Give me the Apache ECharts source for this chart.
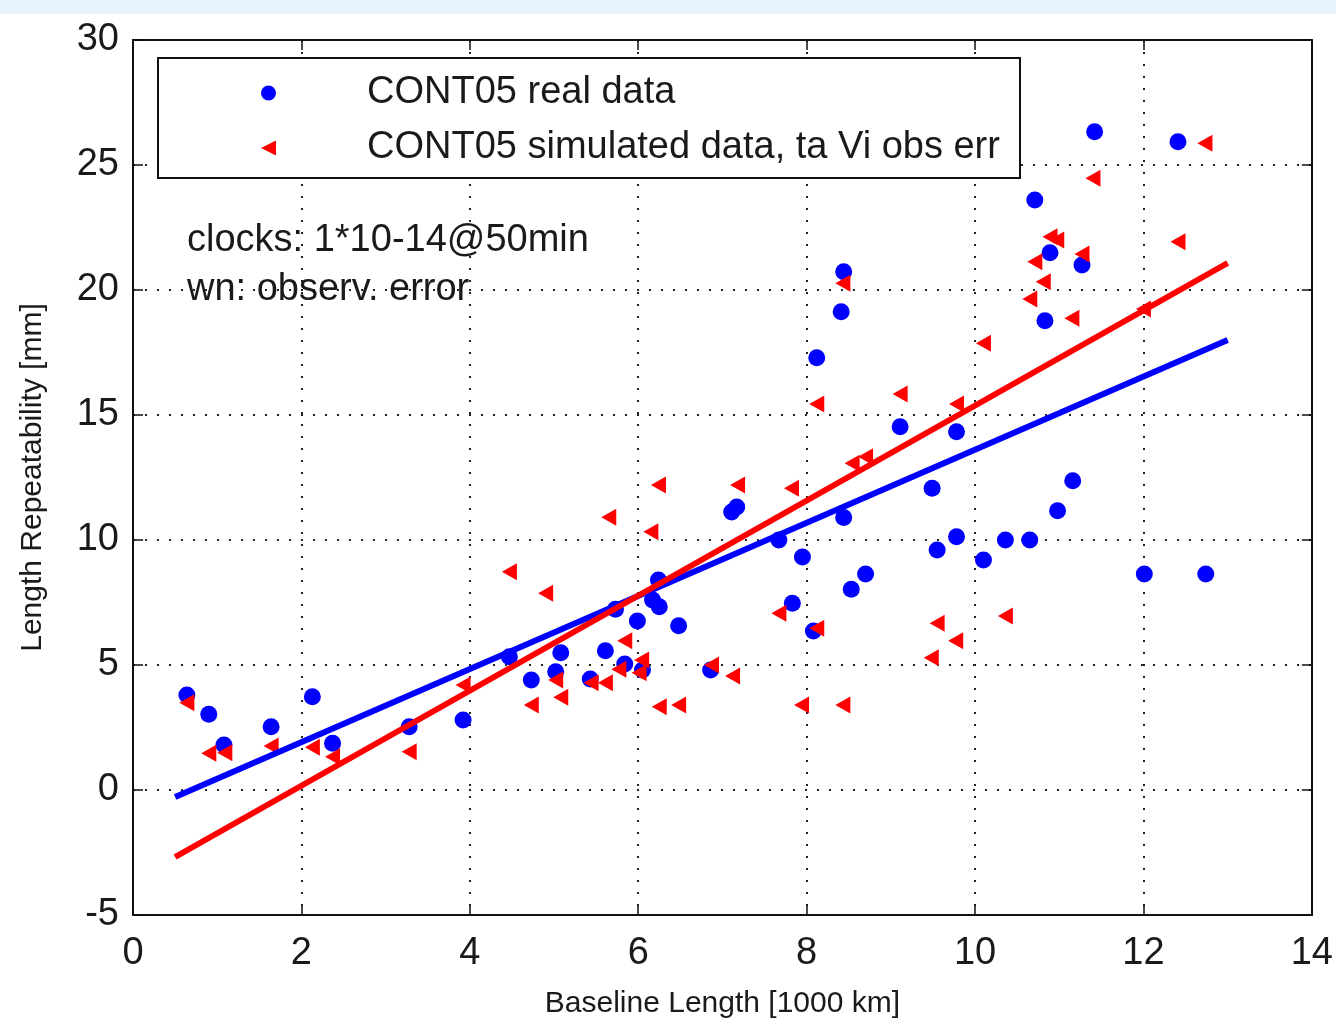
<!DOCTYPE html>
<html>
<head>
<meta charset="utf-8">
<script src="https://cdn.jsdelivr.net/npm/echarts@6/dist/echarts.min.js"></script>
<style>
html,body{margin:0;padding:0;background:#fff;}
#chart{width:1336px;height:1027px;}
</style>
</head>
<body>
<div id="chart"></div>
<script>
// ---- data ----
const realX = [0.64,0.90,1.08,1.64,2.13,2.37,3.28,3.92,4.47,4.73,5.02,5.08,5.43,5.61,5.73,5.84,6.05,5.99,6.24,6.17,6.25,6.48,6.86,7.11,7.17,7.67,7.95,7.83,8.08,8.44,8.53,8.70,8.44,8.41,8.12,9.11,9.78,9.49,9.55,9.78,10.10,10.36,10.65,10.98,11.16,12.01,12.74,10.89,11.27,10.83,10.71,11.42,12.41];
const realY = [3.80,3.03,1.80,2.53,3.73,1.87,2.53,2.80,5.33,4.40,4.73,5.49,4.44,5.57,7.23,5.04,4.80,6.76,8.40,7.60,7.33,6.57,4.80,11.12,11.32,10.00,9.32,7.47,6.36,10.90,8.03,8.64,20.73,19.13,17.29,14.53,14.33,12.07,9.60,10.13,9.20,10.00,10.00,11.17,12.37,8.64,8.64,21.49,21.00,18.77,23.60,26.33,25.93];
const simX = [0.64,0.90,1.09,1.64,2.13,2.37,3.28,3.92,4.47,4.90,4.73,5.02,5.08,5.44,5.61,5.65,5.77,5.84,6.01,6.04,6.15,6.24,6.25,6.48,6.87,7.12,7.18,7.67,7.82,7.94,8.12,8.43,8.43,8.12,9.11,9.78,8.54,8.70,9.55,9.77,9.48,10.36,10.10,10.71,10.81,10.65,11.15,11.27,10.89,10.97,12.00,12.41,11.40,12.73];
const simY = [3.49,1.47,1.49,1.76,1.71,1.33,1.53,4.20,8.73,7.87,3.40,4.40,3.71,4.29,4.29,10.91,4.83,5.97,4.69,5.20,10.33,12.20,3.33,3.40,5.00,4.56,12.20,7.07,12.07,3.40,6.47,3.40,20.27,15.44,15.84,15.44,13.07,13.33,6.67,5.97,5.29,6.96,17.87,21.13,20.33,19.64,18.87,21.44,22.13,22.00,19.24,21.93,24.47,25.87];
const fitX = [0.5, 13];
const realFitY = [-0.28, 18.0];
const simFitY = [-2.68, 21.08];
const xTicks = {min: 0, max: 14, interval: 2};
const yTicks = {min: -5, max: 30, interval: 5};
const seriesNames = ['CONT05 real data', 'CONT05 simulated data, ta Vi obs err'];
const noteLines = ['clocks: 1*10-14@50min', 'wn: observ. error'];
const xName = 'Baseline Length [1000 km]';
const yName = 'Length Repeatability [mm]';

const FONT = '"Liberation Sans", Arial, sans-serif';
const TXT = '#1a1a1a';
const zip = (a, b) => a.map((v, i) => [v, b[i]]);
const LEFT_TRI = 'path://M0,5L10,0L10,10Z';

const chart = echarts.init(document.getElementById('chart'), null, {renderer: 'canvas'});

const gridLine = {show: true, lineStyle: {color: '#222', width: 2, type: [2, 10]}};
const axisBase = {
  type: 'value',
  axisLine: {show: true, onZero: false, lineStyle: {color: '#111', width: 2}},
  axisTick: {show: true, inside: true, length: 10, lineStyle: {color: '#111', width: 1.5}},
};

chart.setOption({
  animation: false,
  backgroundColor: '#fff',
  grid: {left: 133, right: 22, top: 40, bottom: 112, show: false},
  xAxis: [
    Object.assign({}, axisBase, xTicks, {
      position: 'bottom',
      name: xName, nameLocation: 'middle', nameGap: 74,
      nameTextStyle: {fontFamily: FONT, fontSize: 30, color: TXT},
      axisLabel: {fontFamily: FONT, fontSize: 38, color: TXT, margin: 20},
      splitLine: gridLine
    }),
    Object.assign({}, axisBase, xTicks, {
      position: 'top', axisLabel: {show: false}, splitLine: {show: false}
    })
  ],
  yAxis: [
    Object.assign({}, axisBase, yTicks, {
      position: 'left',
      name: yName, nameLocation: 'middle', nameGap: 85,
      nameTextStyle: {fontFamily: FONT, fontSize: 30, color: TXT},
      axisLabel: {fontFamily: FONT, fontSize: 38, color: TXT, margin: 14},
      splitLine: gridLine
    }),
    Object.assign({}, axisBase, yTicks, {
      position: 'right', axisLabel: {show: false}, splitLine: {show: false}
    })
  ],
  legend: {
    orient: 'vertical',
    left: 261, top: 73,
    padding: 0,
    z: 20,
    itemWidth: 15, itemHeight: 15, itemGap: 15,
    textStyle: {fontFamily: FONT, fontSize: 38, color: TXT, lineHeight: 40, padding: [0, 0, 0, 86]},
    data: [
      {name: seriesNames[0], icon: 'circle', itemStyle: {color: '#0000ff', opacity: 1}},
      {name: seriesNames[1], icon: LEFT_TRI, itemStyle: {color: '#ff0000', opacity: 1}}
    ]
  },
  graphic: [
    {type: 'rect', left: 0, top: 0, z: 1, shape: {width: 1336, height: 14}, style: {fill: '#e8f2fb'}},
    {type: 'rect', z: 15, shape: {x: 158, y: 58, width: 862, height: 120}, style: {fill: '#fff', stroke: '#111', lineWidth: 2}},
    {type: 'text', z: 20, x: 187, y: 241, style: {text: noteLines[0], font: '38px ' + FONT, fill: TXT, verticalAlign: 'middle'}},
    {type: 'text', z: 20, x: 187, y: 290, style: {text: noteLines[1], font: '38px ' + FONT, fill: TXT, verticalAlign: 'middle'}}
  ],
  series: [
    {
      name: seriesNames[0], type: 'scatter', symbol: 'circle', symbolSize: 17,
      itemStyle: {color: '#0000ff', opacity: 1},
      data: zip(realX, realY)
    },
    {
      name: seriesNames[1], type: 'scatter', symbol: 'triangle', symbolSize: [17, 15], symbolRotate: 90,
      itemStyle: {color: '#ff0000', opacity: 1},
      data: zip(simX, simY)
    },
    {
      name: 'real fit', type: 'line', showSymbol: false, symbol: 'none',
      lineStyle: {color: '#0000ff', width: 6},
      data: zip(fitX, realFitY)
    },
    {
      name: 'sim fit', type: 'line', showSymbol: false, symbol: 'none',
      lineStyle: {color: '#ff0000', width: 6},
      data: zip(fitX, simFitY)
    }
  ]
});
</script>
</body>
</html>
